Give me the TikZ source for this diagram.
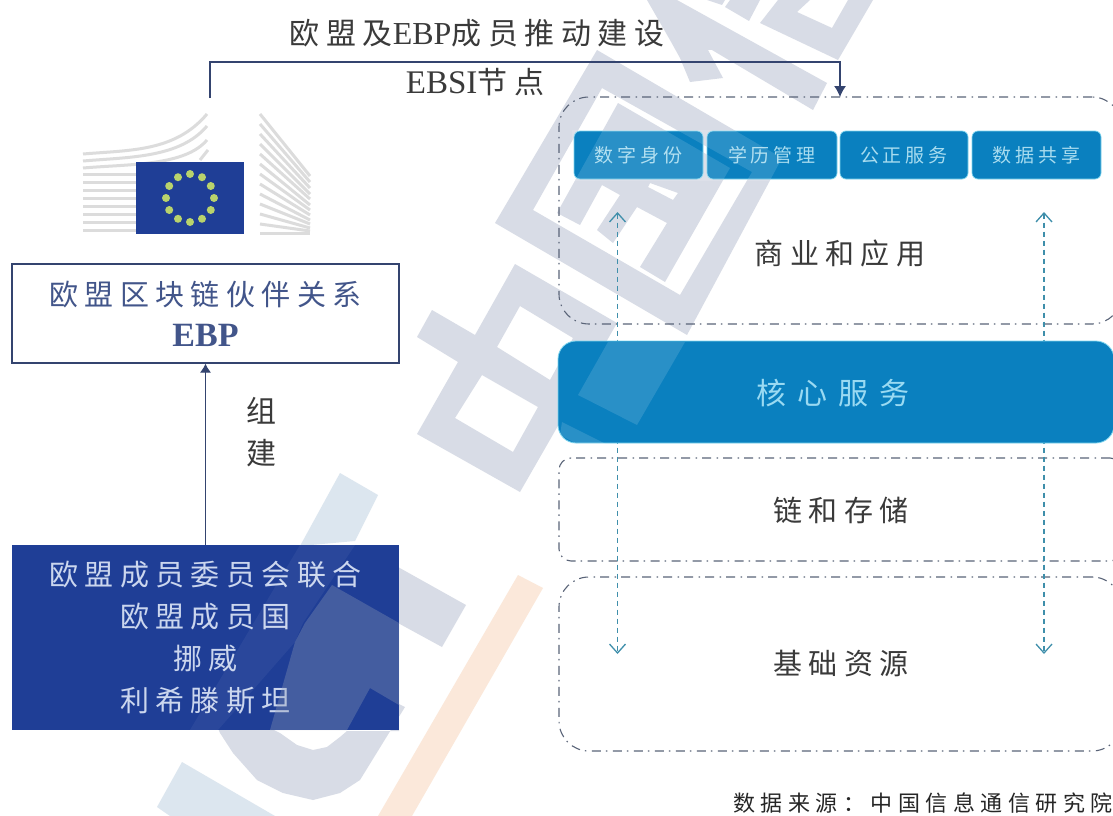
\documentclass[tikz,border=0pt]{standalone}
\usepackage{fontspec}
\usetikzlibrary{arrows.meta}
\setmainfont{Liberation Serif}
\newfontfamily\cjkA[LetterSpace=22]{Noto Sans CJK SC}
\newfontfamily\cjkB[LetterSpace=21]{Noto Sans CJK SC}
\newfontfamily\cjkC[LetterSpace=25]{Noto Sans CJK SC}
\newfontfamily\cjkD[LetterSpace=37]{Noto Sans CJK SC}
\definecolor{wmgrey}{HTML}{D8DCE6}
\definecolor{wmblue}{HTML}{DCE6EF}
\definecolor{wmorange}{HTML}{FBE8DA}
\definecolor{wmalpha}{RGB}{141,153,182}
\definecolor{navy}{HTML}{34446F}
\definecolor{euBlue}{HTML}{1F3E96}
\definecolor{coreBlue}{HTML}{0A80BF}
\definecolor{glow}{HTML}{7FD5EE}
\definecolor{frameGrey}{HTML}{5A6478}
\definecolor{teal}{HTML}{3F8FAB}
\definecolor{inkGrey}{HTML}{3A3A3A}
\definecolor{ebpText}{HTML}{42558A}
\definecolor{foundText}{HTML}{CBD6EE}
\definecolor{coreText}{HTML}{9ADAF2}
\definecolor{funcText}{HTML}{A8DCEF}
\definecolor{wing}{HTML}{DCDCDC}
\definecolor{star}{HTML}{B9D36C}
\newcommand\ringshape{(495,223)--(597,50)--(782,158)--(687,335)--cycle
  (602,88)--(752,172)--(680,295)--(533,210)--cycle
  (618,103)--(730,168)--(665,282)--(640,267)--(667,223)--(637,207)--(613,243)--(597,230)--(620,195)--(602,185)--(580,225)--(557,213)--cycle
  (650,183)--(678,193)--(673,200)--(648,187)--cycle}
\tikzset{
  big/.style={font=\fontsize{29}{42}\selectfont\cjkA,align=center,inner sep=0pt},
  plainbox/.style={rectangle,minimum width=387pt,inner sep=0pt,align=center},
  frameline/.style={draw=frameGrey,line width=1.1pt,dash pattern=on 9pt off 5pt on 1.5pt off 5.5pt,rectangle,inner sep=0pt,minimum width=563pt},
  funcbox/.style={rectangle,rounded corners=6pt,draw=glow,line width=.7pt,fill=coreBlue,minimum height=48pt,inner sep=0pt,text=funcText,font=\fontsize{19}{23}\selectfont\cjkB},
  navyline/.style={draw=navy,line width=1.1pt},
  bothway/.style={draw=teal,line width=1.3pt,dash pattern=on 5pt off 4pt,{Straight Barb[length=9pt,width=16pt]}-{Straight Barb[length=9pt,width=16pt]}},
  over/.style={fill=wmalpha,fill opacity=.34,even odd rule},
  wingline/.style={draw=wing,line width=3pt}
}
\begin{document}
\begin{tikzpicture}[x=1pt,y=-1pt]
\useasboundingbox (0,0) rectangle (1113,816);
\fill[white] (0,0) rectangle (1113,816);
% watermark beneath the drawing
\fill[wmgrey] (647,0)--(677,0)--(827,83)--(813,110)--(712,50)--(708,50)--(723,78)--(690,82)--(680,58)--(670,40)--cycle;
\fill[wmgrey] (707,0)--(722,5)--(725,0)--cycle;
\fill[wmgrey] (730,0)--(760,0)--(749,21)--(725,7)--cycle;
\fill[wmgrey,even odd rule] (778,0)--(760,23)--(838,60)--(873,0)--cycle (810,0)--(797,12)--(832,28)--(848,0)--cycle;
\fill[wmgrey,even odd rule] \ringshape;
\fill[wmgrey,even odd rule] (515,264)--(617,323)--(520,492)--(417,434)--(458,362)--(417,337)--(432,310)--(475,335)--cycle
  (520,306)--(573,338)--(550,380)--(497,347)--cycle
  (482,375)--(538,407)--(513,452)--(455,418)--cycle;
\fill[wmblue] (340,473)--(378,495)--(355,541)--(300,546)--cycle;
\fill[wmgrey] (398,567)--(466,605)--(442,647)--(398,623)--cycle;
\fill[wmgrey] (218,728)--(220,733)--(233,753)--(257,780)--(283,793)--(313,800)--(340,793)--(360,780)--(405,707)--(399,704)--(399,731)--(347,731)--(340,737)--(327,747)--(313,750)--(297,745)--(280,733)--(270,728)--cycle;
\fill[wmblue] (182,762)--(275,816)--(170,816)--(157,807)--cycle;
\fill[wmorange] (518,575)--(543,588)--(412,816)--(378,816)--cycle;
% EU icon
\foreach \yy in {174,182,190,198,206,214,222,230}{\draw[wingline] (83,\yy)--(140,\yy);}
\draw[wingline] (83,154) .. controls (130,150) and (175,152) .. (207,114);
\draw[wingline] (83,161) .. controls (130,157) and (180,158) .. (207,126);
\draw[wingline] (83,168) .. controls (130,164) and (185,166) .. (207,140);
\draw[wingline] (200,160)--(208,150);
\foreach \ya/\yb in {114/176,124/182,134/188,144/194,154/199,164/205,174/210,184/215,194/220,204/224,214/228,224/231,233/233}{\draw[wingline] (260,\ya)--(310,\yb);}
\fill[euBlue] (136,162) rectangle (244,234);
\foreach \a in {0,30,...,330}{\fill[star] ({190+24*cos(\a)},{198+24*sin(\a)}) circle (4);}
% left column
\node[plainbox,draw=navy,line width=1.2pt,fill=white,minimum height=99pt,text=ebpText,font=\fontsize{29}{41}\selectfont\cjkA] (ebp) at (205.5,313.5) {欧盟区块链伙伴关系\\{\rmfamily\bfseries\fontsize{34}{41}\selectfont EBP}};
\node[plainbox,fill=euBlue,minimum height=185pt,text=foundText,font=\fontsize{29}{42}\selectfont\cjkA] (found) at (205.5,637.5) {欧盟成员委员会联合\\欧盟成员国\\挪威\\利希滕斯坦};
\draw[navyline,-{Latex[length=9pt,width=11pt]}] (found.north) -- (ebp.south);
\node[inner sep=0pt,align=center,text=inkGrey,font=\fontsize{30}{42}\selectfont\cjkA] (zujian) at (261,432) {组\\建};
% right column
\node[frameline,rounded corners=30pt,minimum height=227pt] (apps) at (840.5,210.5) {};
\node[frameline,rounded corners=12pt,minimum height=103pt] (chain) at (840.5,509.5) {};
\node[frameline,rounded corners=30pt,minimum height=174pt] (base) at (840.5,664) {};
\coordinate (lu) at (617.5,212);
\coordinate (ld) at (617.5,654);
\coordinate (ru) at (1044,212);
\coordinate (rd) at (1044,654);
\draw[bothway] (lu) -- (ld);
\draw[bothway] (ru) -- (rd);
\node[rectangle,rounded corners=18pt,draw=glow,line width=.8pt,fill=coreBlue,minimum width=556pt,minimum height=102pt,inner sep=0pt] (core) at (836,392) {};
\node[inner sep=0pt,text=coreText,font=\fontsize{30}{34}\selectfont\cjkD] (corelabel) at (833,393) {核心服务};
\node[funcbox,minimum width=129pt] (f1) at (638.5,155) {数字身份};
\node[funcbox,minimum width=130pt] (f2) at (772,155) {学历管理};
\node[funcbox,minimum width=128pt] (f3) at (904,155) {公正服务};
\node[funcbox,minimum width=129pt] (f4) at (1036.5,155) {数据共享};
\node[big,text=inkGrey] (applabel) at (840,253) {商业和应用};
\node[big,text=inkGrey] (chainlabel) at (841,510) {链和存储};
\node[big,text=inkGrey] (baselabel) at (841,663) {基础资源};
% top connector and caption
\coordinate (eutop) at (210,98);
\coordinate (appstop) at (840,97);
\draw[navyline,-{Latex[length=11pt,width=12pt]}] (eutop) -- (210,62) -- (840,62) -- (appstop);
\node[inner sep=0pt,text=inkGrey,font=\fontsize{30}{34}\selectfont\cjkA] (cap1) at (477,33) {欧盟及{\rmfamily\fontsize{32}{34}\selectfont EBP}成员推动建设};
\node[inner sep=0pt,text=inkGrey,font=\fontsize{30}{34}\selectfont\cjkA] (cap2) at (475,82) {{\rmfamily\fontsize{33}{34}\selectfont EBSI}节点};
\node[inner sep=0pt,anchor=east,text=black!85,font=\fontsize{22}{26}\selectfont\cjkC] (source) at (1113,803) {数据来源：中国信息通信研究院};
% watermark over the boxes
\begin{scope}
\clip (572,130) rectangle (838,180);
\fill[white,fill opacity=.13,even odd rule] \ringshape;
\end{scope}
\fill[over] (332,585)--(399,623)--(399,705)--(370,688)--(347,730)--(270,730)--(295,642)--(305,623)--cycle;
\fill[white,fill opacity=.05] (300,545)--(355,545)--(303,623)--(295,642)--(218,730)--(190,730)--cycle;
\fill[white,fill opacity=.13] (578,395)--(608,342)--(685,342)--(637,425)--cycle;
\fill[white,fill opacity=.13] (562,422)--(618,450)--(575,443)--(560,435)--cycle;
\end{tikzpicture}
\end{document}
